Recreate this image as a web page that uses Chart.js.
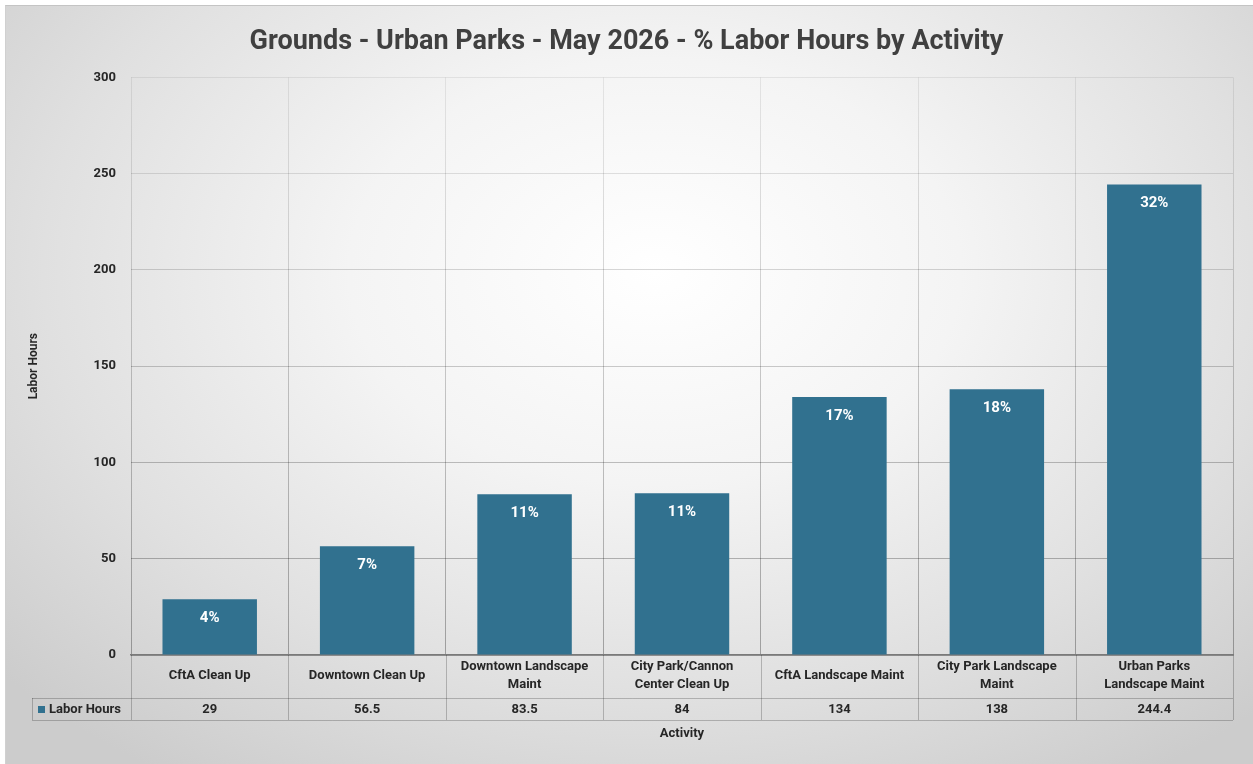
<!DOCTYPE html>
<html>
<head>
<meta charset="utf-8">
<script src="https://cdn.jsdelivr.net/npm/chart.js@4.4.1/dist/chart.umd.min.js"></script>
<style>
    body { margin: 0; background: #fff; }
    #wrap {
        position: absolute; left: 5px; top: 5px; width: 1248px; height: 759px;
        border-top: 1px solid #c4c4c4; border-left: 1px solid #d0d0d0;
        background: radial-gradient(ellipse 70% 80% at 52% 35%, #ffffff 0%, #f4f4f4 35%, #e0e0e0 70%, #cccccc 100%);
    }
    #c { position: absolute; left: 0; top: 0; }
</style>
</head>
<body>
<div id="wrap"></div>
<canvas id="c" width="1253" height="764"></canvas>
<script>

// data from the chart
const activities = [
    ['CftA Clean Up'],
    ['Downtown Clean Up'],
    ['Downtown Landscape', 'Maint'],
    ['City Park/Cannon', 'Center Clean Up'],
    ['CftA Landscape Maint'],
    ['City Park Landscape', 'Maint'],
    ['Urban Parks', 'Landscape Maint']
];
const laborHours = [29, 56.5, 83.5, 84, 134, 138, 244.4];
const yTicks = [0, 50, 100, 150, 200, 250, 300];

const seriesName = 'Labor Hours';
const barColor = '#31718f';
const fontFam = 'Roboto';
const textColor = '#262626';
const tableLine = 'rgba(0,0,0,0.22)';

const total = laborHours.reduce((a, b) => a + b, 0);

// grid lines get darker towards the bottom, like the picture
let gridGrad = null;
function gridColor(c) {
    const area = c.chart.chartArea;
    if (!area) return 'rgba(0,0,0,0.15)';
    if (!gridGrad) {
        gridGrad = c.chart.ctx.createLinearGradient(0, area.top, 0, area.bottom);
        gridGrad.addColorStop(0, 'rgba(0,0,0,0.07)');
        gridGrad.addColorStop(0.5, 'rgba(0,0,0,0.2)');
        gridGrad.addColorStop(1, 'rgba(0,0,0,0.3)');
    }
    return gridGrad;
}

// percent labels on top of bars
const pctLabels = {
    id: 'pctLabels',
    afterDatasetsDraw(chart) {
        const ctx = chart.ctx;
        const meta = chart.getDatasetMeta(0);
        ctx.save();
        ctx.fillStyle = '#ffffff';
        ctx.font = 'bold 15px ' + fontFam;
        ctx.textAlign = 'center';
        ctx.textBaseline = 'middle';
        meta.data.forEach((bar, i) => {
            let pct = Math.round(laborHours[i] / total * 100);
            ctx.fillText(pct + '%', bar.x, bar.y + 19);
        });
        ctx.restore();
    }
};

// data table under the x axis
const dataTable = {
    id: 'dataTable',
    afterDraw(chart) {
        const ctx = chart.ctx;
        const x = chart.scales.x;
        const area = chart.chartArea;
        const top = area.bottom;
        const rowTop = top + 43;
        const rowBottom = rowTop + 22;
        const leftCol = 32;
        const half = (x.getPixelForValue(1) - x.getPixelForValue(0)) / 2;

        ctx.save();
        ctx.strokeStyle = tableLine;
        ctx.lineWidth = 1;
        ctx.beginPath();
        ctx.moveTo(leftCol, rowTop + 0.5); ctx.lineTo(area.right, rowTop + 0.5);
        ctx.moveTo(leftCol, rowBottom + 0.5); ctx.lineTo(area.right, rowBottom + 0.5);
        ctx.moveTo(leftCol + 0.5, rowTop); ctx.lineTo(leftCol + 0.5, rowBottom);
        ctx.moveTo(area.left + 0.5, top); ctx.lineTo(area.left + 0.5, rowBottom);
        for (let i = 0; i < laborHours.length; i++) {
            let px = Math.round(x.getPixelForValue(i) + half) + 0.5;
            ctx.moveTo(px, top); ctx.lineTo(px, rowBottom);
        }
        ctx.stroke();

        ctx.fillStyle = textColor;
        ctx.font = 'bold 13px ' + fontFam;
        ctx.textAlign = 'center';
        ctx.textBaseline = 'middle';
        laborHours.forEach((v, i) => {
            ctx.fillText(String(v), x.getPixelForValue(i), rowTop + 12);
        });

        // legend key
        ctx.fillStyle = barColor;
        ctx.fillRect(leftCol + 6, rowTop + 8, 7, 7);
        ctx.fillStyle = textColor;
        ctx.textAlign = 'left';
        ctx.fillText(seriesName, leftCol + 17, rowTop + 12);
        ctx.restore();
    }
};

const data = {
    labels: activities,
    datasets: [{
        label: seriesName,
        data: laborHours,
        backgroundColor: barColor,
        barPercentage: 0.6,
        categoryPercentage: 1
    }]
};

const config = {
    type: 'bar',
    data: data,
    options: {
        responsive: false,
        animation: false,
        layout: { padding: 0 },
        plugins: {
            legend: { display: false },
            tooltip: { enabled: false },
            title: {
                display: true,
                text: 'Grounds - Urban Parks - May 2026 - % Labor Hours by Activity',
                color: '#404040',
                font: { family: fontFam, size: 27, weight: 'bold' },
                padding: { top: 26, bottom: 19 }
            }
        },
        scales: {
            x: {
                grid: { color: gridColor, drawTicks: false, offset: true },
                border: { color: '#7a7a7a', width: 1.5 },
                ticks: {
                    color: textColor,
                    font: { family: fontFam, size: 13, weight: 'bold', lineHeight: 1.4 },
                    padding: 12,
                    crossAlign: 'center',
                    maxRotation: 0,
                    autoSkip: false
                },
                title: {
                    display: true,
                    text: 'Activity',
                    color: textColor,
                    font: { family: fontFam, size: 13, weight: 'bold' },
                    padding: { top: 4, bottom: 22 }
                },
                afterFit(scale) { scale.height = 109; }
            },
            y: {
                min: 0,
                max: 300,
                afterBuildTicks(scale) { scale.ticks = yTicks.map(v => ({ value: v })); },
                grid: { color: gridColor, drawTicks: false },
                border: { display: false },
                ticks: {
                    color: textColor,
                    font: { family: fontFam, size: 13, weight: 'bold' },
                    padding: 15
                },
                title: {
                    display: true,
                    text: 'Labor Hours',
                    color: textColor,
                    font: { family: fontFam, size: 12, weight: 'bold' },
                    padding: { top: 27, bottom: 0 }
                },
                afterFit(scale) { scale.width = 131; }
            },
            // empty right gutter so the title centres on the whole frame
            gutter: {
                position: 'right',
                min: 0,
                max: 300,
                grid: { display: false },
                border: { display: false },
                ticks: { display: false },
                afterFit(scale) { scale.width = 20; }
            }
        }
    },
    plugins: [pctLabels, dataTable]
};

const myChart = new Chart(document.getElementById('c'), config);

</script>
</body>
</html>
